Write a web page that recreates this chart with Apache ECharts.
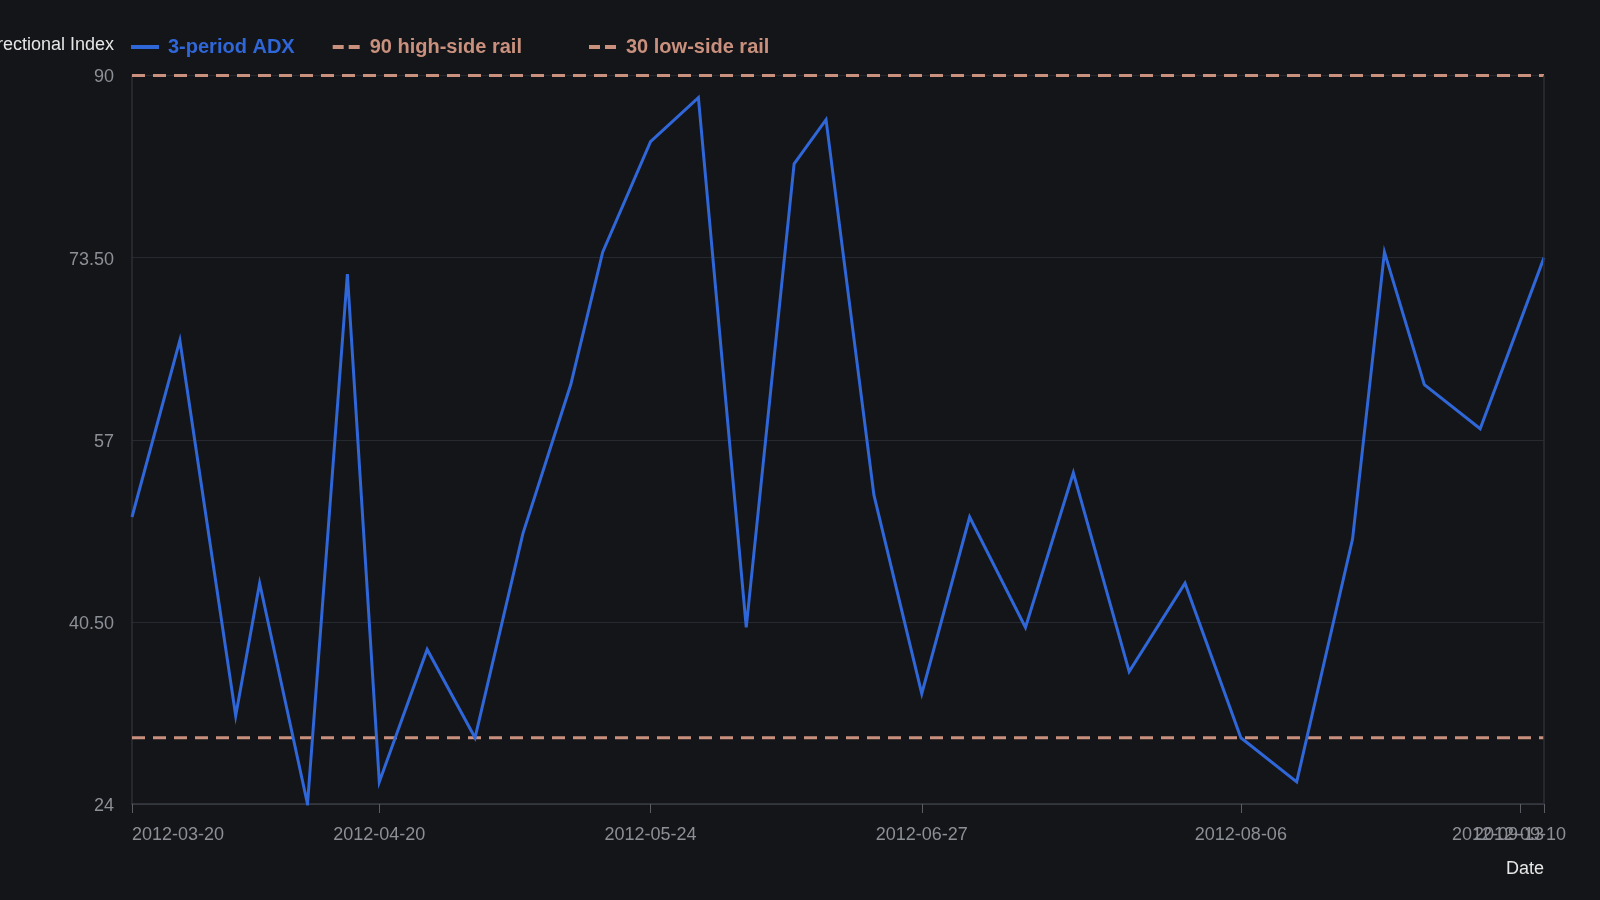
<!DOCTYPE html>
<html>
<head>
<meta charset="utf-8">
<script src="https://cdn.jsdelivr.net/npm/echarts@6/dist/echarts.min.js"></script>
<style>
html,body{margin:0;padding:0;background:#141519;}
#chart{width:1600px;height:900px;}
</style>
</head>
<body>
<div id="chart"></div>
<script>
// ---- data ----
const dates = ['2012-03-20','2012-03-26','2012-04-02','2012-04-05','2012-04-11','2012-04-16','2012-04-20',
  '2012-04-26','2012-05-02','2012-05-08','2012-05-14','2012-05-18','2012-05-24','2012-05-30','2012-06-05',
  '2012-06-11','2012-06-15','2012-06-21','2012-06-27','2012-07-03','2012-07-10','2012-07-16','2012-07-23',
  '2012-07-30','2012-08-06','2012-08-13','2012-08-20','2012-08-24','2012-08-29','2012-09-05','2012-09-13'];
const adx = [50, 66, 32, 44, 24, 72, 26, 38, 30, 48.5, 62, 74, 84, 88, 40, 82, 86, 52, 34, 50, 40, 54, 36,
  44, 30, 26, 48, 74, 62, 58, 73.5];
const highRail = 90;
const lowRail = 30;
const yTicks = [24, 40.5, 57, 73.5, 90];
const xTickDates = ['2012-03-20','2012-04-20','2012-05-24','2012-06-27','2012-08-06','2012-09-13'];
const xExtraTickDates = ['2012-09-10'];
const seriesNames = ['3-period ADX', '90 high-side rail', '30 low-side rail'];

// ---- helpers ----
function toTs(s){ const p = s.split('-').map(Number); return Date.UTC(p[0], p[1]-1, p[2]); }
function fmtDate(v){
  const d = new Date(v);
  const mm = String(d.getUTCMonth()+1).padStart(2,'0');
  const dd = String(d.getUTCDate()).padStart(2,'0');
  return d.getUTCFullYear() + '-' + mm + '-' + dd;
}
const xMin = toTs(dates[0]);
const xMax = toTs(dates[dates.length-1]);

const blue = '#2f66d8';
const rail = '#c9907e';
const labelGrey = '#8c8f96';

function xAxisBase(){
  return {
    type: 'value', gridIndex: 0, position: 'bottom',
    min: xMin, max: xMax,
    splitLine: { show: false }
  };
}
function legendBase(){
  return {
    top: 32, itemWidth: 28, itemHeight: 14, itemGap: 36,
    itemStyle: { opacity: 0 },
    lineStyle: { width: 4 }
  };
}

const chart = echarts.init(document.getElementById('chart'), null, {renderer:'canvas'});
chart.setOption({
  backgroundColor: '#141519',
  animation: false,
  textStyle: { fontFamily: 'Liberation Sans, Arial, sans-serif' },
  legend: [
    Object.assign(legendBase(), {
      left: 124,
      data: [
        { name: seriesNames[0], textStyle: { color: blue, fontWeight: 'bold', fontSize: 20, padding:[0,0,0,4] } },
        { name: seriesNames[1], lineStyle: { width: 4, type: [11, 5] }, textStyle: { color: rail, fontWeight: 'bold', fontSize: 20, padding:[0,0,0,4] } }
      ]
    }),
    Object.assign(legendBase(), {
      left: 582,
      data: [
        { name: seriesNames[2], lineStyle: { width: 4, type: [11, 5] }, textStyle: { color: rail, fontWeight: 'bold', fontSize: 20, padding:[0,0,0,4] } }
      ]
    })
  ],
  grid: { left: 132, right: 56, top: 75.5, bottom: 96, outerBoundsMode: 'none', containLabel: false },
  xAxis: [
    Object.assign(xAxisBase(), {
      name: 'Date',
      nameLocation: 'end',
      nameGap: 0,
      nameTextStyle: { color: '#e6e6e6', fontSize: 18, align: 'right', verticalAlign: 'top', padding: [56,0,0,0] },
      axisLine: { show: true, lineStyle: { color: '#3a3d44', width: 1.5 } },
      axisTick: { show: true, length: 9, lineStyle: { color: '#5a5d64' }, customValues: xTickDates.map(toTs) },
      axisLabel: {
        color: labelGrey, fontSize: 18, margin: 22,
        customValues: xTickDates.map(toTs),
        alignMinLabel: 'left', alignMaxLabel: 'right',
        showMinLabel: true, showMaxLabel: true,
        hideOverlap: false,
        formatter: v => fmtDate(v)
      }
    }),
    Object.assign(xAxisBase(), {
      axisLine: { show: false },
      axisTick: { show: true, length: 9, lineStyle: { color: '#5a5d64' }, customValues: xExtraTickDates.map(toTs) },
      axisLabel: {
        color: labelGrey, fontSize: 18, margin: 22,
        customValues: xExtraTickDates.map(toTs),
        showMinLabel: false, showMaxLabel: false,
        hideOverlap: false,
        formatter: v => fmtDate(v)
      }
    })
  ],
  yAxis: {
    type: 'value',
    min: yTicks[0], max: yTicks[yTicks.length-1],
    interval: yTicks[1] - yTicks[0],
    name: 'Average Directional Index',
    nameLocation: 'end',
    nameGap: 21,
    nameTextStyle: { color: '#e6e6e6', fontSize: 18, align: 'right', padding: [0,18,0,0] },
    axisLine: { show: true, lineStyle: { color: '#2c2f36', width: 1.5 } },
    axisTick: { show: false },
    axisLabel: {
      color: labelGrey, fontSize: 18, margin: 18,
      formatter: v => '{v|' + (Number.isInteger(v) ? String(v) : v.toFixed(2)) + '}',
      rich: { v: { color: labelGrey, fontSize: 18, padding: [4, 0, 0, 0] } }
    },
    splitLine: { show: true, lineStyle: { color: '#26292f', width: 1 } }
  },
  series: [
    {
      name: seriesNames[0], type: 'line', symbol: 'none', showSymbol: false,
      data: dates.map((d,i) => [toTs(d), adx[i]]),
      lineStyle: { color: blue, width: 3, join: 'miter' },
      itemStyle: { color: blue },
      z: 3,
      markLine: {
        silent: true, symbol: 'none', label: { show: false },
        lineStyle: { color: '#2c2f36', width: 1.5, type: 'solid' },
        data: [{ xAxis: xMax }]
      }
    },
    {
      name: seriesNames[1], type: 'line', symbol: 'none', showSymbol: false,
      data: [[xMin, highRail], [xMax, highRail]],
      lineStyle: { color: rail, width: 3, type: [13, 8] },
      itemStyle: { color: rail }, z: 2
    },
    {
      name: seriesNames[2], type: 'line', symbol: 'none', showSymbol: false,
      data: [[xMin, lowRail], [xMax, lowRail]],
      lineStyle: { color: rail, width: 3, type: [13, 8] },
      itemStyle: { color: rail }, z: 2
    }
  ]
});
</script>
</body>
</html>
